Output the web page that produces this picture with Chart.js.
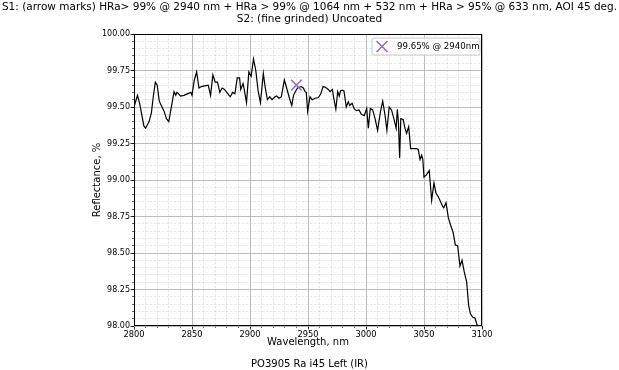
<!DOCTYPE html>
<html><head><meta charset="utf-8">
<script src="https://cdn.jsdelivr.net/npm/chart.js@4.4.1/dist/chart.umd.min.js"></script>
<style>html,body{margin:0;padding:0;background:#fff;overflow:hidden}#wrap{width:619px;height:370px}</style>
</head><body><div id="wrap"><canvas id="c" width="619" height="370"></canvas></div>
<script>
const titleLines = ["S1: (arrow marks) HRa> 99% @ 2940 nm + HRa > 99% @ 1064 nm + 532 nm + HRa > 95% @ 633 nm, AOI 45 deg.", "S2: (fine grinded) Uncoated"];
const subtitleText = "PO3905 Ra i45 Left (IR)";
const xAxisTitle = "Wavelength, nm";
const yAxisTitle = "Reflectance, %";
const xTickValues = [2800, 2850, 2900, 2950, 3000, 3050, 3100];
const yTickValues = [98.00, 98.25, 98.50, 98.75, 99.00, 99.25, 99.50, 99.75, 100.00];

const wavelengths = [
 2800,2803,2805,2808.5,2810,2813,2815,2816.6,2818.4,2820,
 2821.8,2823.5,2826,2828,2830,2832,2834.5,2836,2837,2838.5,
 2840,2843,2846,2849,2850,2852,2854,2856,2858,2861,
 2864,2866,2868,2870,2872,2874,2876,2878,2881,2883,
 2885,2887,2889,2891,2892,2894,2895,2897,2899,2901,
 2903,2905,2907,2909,2911.5,2913,2915,2917,2919,2921.5,
 2923,2925,2927,2929.6,2931.6,2934,2936,2937.5,2939,2941,
 2944,2946,2947.5,2948.5,2949.7,2951.7,2953.7,2956,2959,2961,
 2963,2965,2967.5,2969,2971,2972,2974,2975.6,2977,2978,
 2979.6,2981,2983,2984.7,2986,2988,2990,2992,2994,2996,
 2998.5,3000.6,3002,3003.7,3005.7,3007.8,3010,3012.5,3014.4,3016.4,
 3018,3020,3022,3024,3026,3027,3028,3029,3030,3032,
 3033.6,3035,3036.8,3038.5,3041,3043.7,3045,3046.6,3048,3049,
 3050,3052,3054.5,3056.6,3058.6,3060.3,3062.3,3064.4,3066,3067,
 3069,3071,3073,3075,3077,3079,3081,3082.8,3084.7,3086.8,
 3088.5,3090,3092,3094,3096
];
const reflectance = [
 99.50,99.58,99.52,99.37,99.355,99.40,99.46,99.57,99.67,99.65,
 99.54,99.51,99.47,99.42,99.40,99.49,99.605,99.58,99.60,99.59,
 99.575,99.58,99.59,99.60,99.58,99.685,99.74,99.63,99.64,99.645,
 99.65,99.58,99.72,99.67,99.67,99.60,99.63,99.62,99.59,99.57,
 99.60,99.59,99.70,99.70,99.62,99.66,99.62,99.53,99.74,99.71,
 99.83,99.75,99.61,99.53,99.73,99.64,99.55,99.57,99.55,99.57,
 99.575,99.56,99.57,99.685,99.63,99.56,99.51,99.58,99.605,99.63,
 99.64,99.63,99.605,99.60,99.47,99.57,99.55,99.56,99.565,99.59,
 99.64,99.635,99.62,99.605,99.62,99.57,99.485,99.605,99.575,99.61,
 99.615,99.61,99.50,99.535,99.51,99.525,99.485,99.475,99.48,99.45,
 99.44,99.49,99.355,99.49,99.48,99.42,99.34,99.47,99.54,99.445,
 99.34,99.50,99.48,99.42,99.355,99.485,99.39,99.15,99.42,99.415,
 99.355,99.32,99.365,99.215,99.215,99.215,99.21,99.14,99.17,99.14,
 99.02,99.035,99.065,98.86,98.98,98.91,98.885,98.85,98.82,98.81,
 98.845,98.74,98.69,98.645,98.555,98.55,98.41,98.45,98.37,98.30,
 98.14,98.085,98.06,98.055,98.00
];
const markerWavelength = [2940];
const markerReflectance = [99.65];
const markerLabel = "99.65% @ 2940nm";

const FONT = "'DejaVu Sans', 'Liberation Sans', sans-serif";
Chart.defaults.font.family = FONT;
Chart.defaults.color = '#000';

const lineData = wavelengths.map((w, i) => ({x: w, y: reflectance[i]}));
const markerData = markerWavelength.map((w, i) => ({x: w, y: markerReflectance[i]}));
const PURPLE = '#9467bd';

function minorTicks(min, max, step) {
  const out = [];
  const n = Math.round((max - min) / step);
  for (let i = 0; i <= n; i++) out.push({value: +(min + i * step).toFixed(6)});
  return out;
}

const framePlugin = {
  id: 'frame',
  afterDatasetsDraw(chart) {
    const {ctx, chartArea: a} = chart;
    ctx.save();
    ctx.strokeStyle = '#000';
    ctx.lineWidth = 1;
    ctx.strokeRect(Math.round(a.left) + 0.5, Math.round(a.top) + 0.5, Math.round(a.right - a.left) - 1, Math.round(a.bottom - a.top) - 1);
    ctx.restore();
  }
};

const legendPlugin = {
  id: 'boxLegend',
  afterDraw(chart) {
    const {ctx, chartArea: a} = chart;
    const w = 108, h = 17;
    const right = a.right - 2, top = a.top + 4;
    const left = right - w;
    ctx.save();
    ctx.beginPath();
    const r = 2;
    ctx.moveTo(left + r, top);
    ctx.lineTo(left + w - r, top);
    ctx.quadraticCurveTo(left + w, top, left + w, top + r);
    ctx.lineTo(left + w, top + h - r);
    ctx.quadraticCurveTo(left + w, top + h, left + w - r, top + h);
    ctx.lineTo(left + r, top + h);
    ctx.quadraticCurveTo(left, top + h, left, top + h - r);
    ctx.lineTo(left, top + r);
    ctx.quadraticCurveTo(left, top, left + r, top);
    ctx.closePath();
    ctx.fillStyle = 'rgba(255,255,255,0.8)';
    ctx.fill();
    ctx.strokeStyle = '#cccccc';
    ctx.lineWidth = 1;
    ctx.stroke();
    const mx = left + 10, my = top + h / 2, s = 5.5;
    ctx.beginPath();
    ctx.moveTo(mx - s, my - s); ctx.lineTo(mx + s, my + s);
    ctx.moveTo(mx - s, my + s); ctx.lineTo(mx + s, my - s);
    ctx.strokeStyle = PURPLE;
    ctx.lineWidth = 1.5;
    ctx.stroke();
    ctx.fillStyle = '#000';
    ctx.font = "8.6px " + FONT;
    ctx.textBaseline = 'middle';
    ctx.textAlign = 'left';
    ctx.fillText(markerLabel, left + 25, my + 0.5);
    ctx.restore();
  }
};

new Chart(document.getElementById('c'), {
  type: 'line',
  data: {
    datasets: [
      {label: 'S1', data: lineData, borderColor: '#000', borderWidth: 1.2, pointRadius: 0, tension: 0, fill: false, order: 1, xAxisID: 'x', yAxisID: 'y'},
      {type: 'scatter', label: markerLabel, data: markerData, pointStyle: 'crossRot', pointRadius: 7.5, pointBorderWidth: 1.5, borderColor: PURPLE, backgroundColor: PURPLE, order: 0, xAxisID: 'x', yAxisID: 'y'}
    ]
  },
  options: {
    responsive: false, devicePixelRatio: 1, animation: false,
    layout: {padding: 0},
    plugins: {
      legend: {display: false},
      tooltip: {enabled: false},
      title: {display: true, text: titleLines, font: {size: 10.5, lineHeight: 1.143, weight: 'normal'}, color: '#000', padding: {top: 1, bottom: 9}},
      subtitle: {display: true, position: 'bottom', text: subtitleText, font: {size: 10, lineHeight: 1.2}, color: '#000', padding: {top: 10, bottom: 0}}
    },
    scales: {
      x: {
        type: 'linear', position: 'bottom', min: 2800, max: 3100, weight: 1,
        afterBuildTicks: s => { s.ticks = xTickValues.map(v => ({value: v})); },
        ticks: {font: {size: 8.3}, color: '#000', padding: 0, maxRotation: 0, autoSkip: false, callback: v => String(v)},
        grid: {color: '#b0b0b0', lineWidth: 0.8, tickLength: 3.5, tickColor: '#000', tickWidth: 0.8},
        border: {display: false},
        title: {display: true, text: xAxisTitle, font: {size: 10, lineHeight: 1.2}, color: '#000', padding: 0},
        afterFit: s => { s.height = 22; }
      },
      xMinor: {
        type: 'linear', position: 'bottom', min: 2800, max: 3100, weight: 0,
        afterBuildTicks: s => { s.ticks = minorTicks(2800, 3100, 10); },
        ticks: {display: false},
        grid: {color: 'rgba(176,176,176,0.5)', lineWidth: 0.6, tickLength: 2, tickColor: '#000', tickWidth: 0.6},
        border: {display: false, dash: [2.5, 1.5]},
        afterFit: s => { s.height = 0; }
      },
      y: {
        type: 'linear', position: 'left', min: 98, max: 100, weight: 1,
        afterBuildTicks: s => { s.ticks = yTickValues.map(v => ({value: v})); },
        ticks: {font: {size: 8}, color: '#000', padding: 0.5, autoSkip: false, callback: v => Number(v).toFixed(2)},
        grid: {color: '#b0b0b0', lineWidth: 0.8, tickLength: 3.5, tickColor: '#000', tickWidth: 0.8},
        border: {display: false},
        title: {display: true, text: yAxisTitle, font: {size: 10, lineHeight: 1.2}, color: '#000', padding: {top: 91, bottom: 0}},
        afterFit: s => { s.width = 134; }
      },
      yMinor: {
        type: 'linear', position: 'left', min: 98, max: 100, weight: 0,
        afterBuildTicks: s => { s.ticks = minorTicks(98, 100, 0.05); },
        ticks: {display: false},
        grid: {color: 'rgba(176,176,176,0.5)', lineWidth: 0.6, tickLength: 2, tickColor: '#000', tickWidth: 0.6},
        border: {display: false, dash: [2.5, 1.5]},
        afterFit: s => { s.width = 0; }
      },
      yPad: {
        type: 'linear', position: 'right', display: true,
        grid: {display: false}, ticks: {display: false}, border: {display: false},
        afterFit: s => { s.width = 137; }
      }
    }
  },
  plugins: [framePlugin, legendPlugin]
});
</script></body></html>
